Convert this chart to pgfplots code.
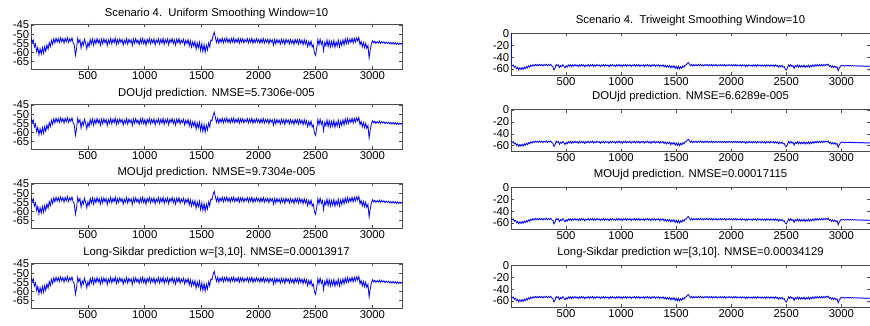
\documentclass[border=0pt]{standalone}
\usepackage{pgfplots}
\usepackage{pgfplotstable}
\pgfplotsset{compat=1.18}
\usepackage{fontspec}
\setmainfont{Liberation Sans}

\pgfplotstableread{
x y
1 -52.0
11 -54.6
21 -53.2
31 -57.0
41 -55.4
51 -59.6
61 -57.2
71 -61.3
81 -58.0
91 -60.8
101 -57.4
111 -60.5
121 -56.8
131 -59.4
141 -55.9
151 -58.2
161 -54.6
171 -56.8
181 -53.4
191 -55.6
201 -52.6
211 -54.8
221 -52.2
231 -54.3
241 -52.5
251 -54.6
261 -52.0
271 -54.1
281 -52.4
291 -54.9
301 -52.3
311 -54.2
321 -51.9
331 -54.5
341 -52.6
351 -53.9
361 -52.1
371 -54.7
381 -55.8
391 -61.5
401 -58.2
411 -52.3
421 -54.6
431 -53.0
441 -57.6
451 -54.2
461 -55.9
471 -52.8
481 -55.0
491 -58.0
501 -54.6
511 -56.8
521 -52.9
531 -55.4
541 -52.6
551 -56.1
561 -53.0
571 -55.2
581 -52.4
591 -54.9
601 -53.1
611 -56.0
621 -52.7
631 -55.3
641 -52.5
651 -54.8
661 -52.9
671 -56.2
681 -53.2
691 -55.0
701 -52.3
711 -55.4
721 -52.8
731 -54.7
741 -52.2
751 -55.6
761 -53.0
771 -55.1
781 -52.6
791 -54.5
801 -52.9
811 -56.0
821 -53.3
831 -54.9
841 -52.4
851 -55.5
861 -52.8
871 -54.6
881 -53.1
891 -56.2
901 -52.7
911 -55.0
921 -52.5
931 -54.8
941 -53.2
951 -55.7
961 -52.6
971 -54.9
981 -52.3
991 -55.2
1001 -53.0
1011 -56.1
1021 -52.8
1031 -54.7
1041 -52.4
1051 -55.3
1061 -52.9
1071 -54.8
1081 -52.6
1091 -55.9
1101 -53.1
1111 -54.6
1121 -52.5
1131 -55.4
1141 -52.8
1151 -54.9
1161 -52.3
1171 -55.6
1181 -53.0
1191 -54.7
1201 -52.6
1211 -55.8
1221 -52.9
1231 -54.5
1241 -52.4
1251 -55.2
1261 -53.1
1271 -56.0
1281 -52.7
1291 -54.8
1301 -52.5
1311 -55.5
1321 -53.2
1331 -54.6
1341 -52.8
1351 -55.9
1361 -53.4
1371 -55.1
1381 -52.9
1391 -56.4
1401 -53.6
1411 -57.0
1421 -54.2
1431 -56.6
1441 -54.0
1451 -58.2
1461 -54.8
1471 -57.5
1481 -54.4
1491 -59.0
1501 -55.3
1511 -59.5
1521 -55.6
1531 -59.8
1541 -56.0
1551 -58.6
1561 -54.8
1571 -57.0
1581 -53.2
1591 -53.6
1601 -50.6
1611 -49.0
1621 -52.0
1631 -54.6
1641 -52.2
1651 -55.0
1661 -52.6
1671 -54.4
1681 -52.3
1691 -54.8
1701 -52.5
1711 -54.2
1721 -52.1
1731 -54.6
1741 -52.7
1751 -54.9
1761 -52.4
1771 -54.3
1781 -52.2
1791 -54.7
1801 -52.8
1811 -54.5
1821 -52.3
1831 -55.0
1841 -52.6
1851 -54.4
1861 -52.5
1871 -54.8
1881 -52.9
1891 -54.2
1901 -52.4
1911 -54.9
1921 -52.7
1931 -54.5
1941 -52.3
1951 -55.1
1961 -52.8
1971 -54.6
1981 -52.5
1991 -54.3
2001 -52.9
2011 -55.0
2021 -52.6
2031 -54.7
2041 -52.4
2051 -54.9
2061 -53.0
2071 -54.5
2081 -52.7
2091 -55.2
2101 -52.8
2111 -54.4
2121 -53.1
2131 -56.0
2141 -53.0
2151 -55.3
2161 -52.9
2171 -54.8
2181 -53.2
2191 -55.5
2201 -52.8
2211 -54.9
2221 -53.0
2231 -55.6
2241 -52.7
2251 -54.6
2261 -53.1
2271 -55.4
2281 -52.9
2291 -55.0
2301 -53.3
2311 -55.7
2321 -52.8
2331 -54.9
2341 -53.0
2351 -55.5
2361 -52.9
2371 -55.1
2381 -53.2
2391 -55.8
2401 -53.0
2411 -55.4
2421 -53.6
2431 -56.8
2441 -54.0
2451 -56.2
2461 -53.8
2471 -57.0
2481 -56.0
2491 -60.2
2501 -61.6
2511 -57.5
2521 -53.0
2531 -55.8
2541 -52.8
2551 -55.6
2561 -54.0
2571 -59.0
2581 -54.5
2591 -56.4
2601 -53.2
2611 -56.8
2621 -53.6
2631 -57.0
2641 -54.0
2651 -56.6
2661 -53.5
2671 -57.2
2681 -54.2
2691 -56.5
2701 -53.4
2711 -57.0
2721 -53.8
2731 -56.2
2741 -53.1
2751 -55.9
2761 -52.6
2771 -55.2
2781 -52.4
2791 -55.0
2801 -52.8
2811 -54.6
2821 -52.2
2831 -54.9
2841 -52.3
2851 -54.3
2861 -52.0
2871 -53.8
2881 -51.8
2891 -55.8
2901 -54.0
2911 -57.0
2921 -54.6
2931 -57.4
2941 -55.0
2951 -57.8
2961 -56.2
2971 -63.0
2981 -58.6
2991 -55.4
3001 -53.6
3011 -54.8
3021 -53.9
3031 -55.0
3041 -54.1
3051 -54.9
3061 -53.8
3071 -55.1
3081 -54.0
3091 -54.8
3101 -54.2
3111 -55.2
3121 -54.3
3131 -55.0
3141 -54.4
3151 -55.3
3161 -54.6
3171 -55.4
3181 -54.5
3191 -55.5
3201 -54.7
3211 -55.6
3221 -54.8
3231 -55.7
3241 -54.9
3251 -55.5
3260 -55.0
}\sig

\pgfplotsset{
  myax/.style={
    scale only axis,
    xmin=1, xmax=3260,
    xtick={500,1000,...,3000},
    tick align=inside, tick pos=both,
    major tick length=2.2pt,
    ticklabel style={font=\fontsize{8.5}{9}\selectfont},
    xticklabel style={inner sep=1.5pt},
    yticklabel style={inner xsep=1.2pt, inner ysep=0pt},
    /pgf/number format/assume math mode=true,
    /pgf/number format/1000 sep={},
    axis line style={black!70},
    every tick/.style={black!70},
    every axis title shift=0pt,
    title style={font=\fontsize{8.5}{9}\selectfont, at={(0.5,1)}, anchor=base},
  },
  leftax/.style={myax, width=278.25pt, height=33.75pt,
    ymin=-69, ymax=-44.5, ytick={-65,-60,-55,-50,-45},
    title style={yshift=5.5pt}},
  rightax/.style={myax, width=269.25pt, height=31.5pt,
    ymin=-70, ymax=0.5, ytick={-60,-40,-20,0},
    title style={yshift=7.5pt}},
  sigline/.style={blue, line width=0.6pt},
}

\begin{document}
\begin{tikzpicture}
\path[use as bounding box] (0,0) rectangle (652.5pt,243.75pt);

% left column
\begin{axis}[leftax, at={(23.25pt,192pt)}, anchor=south west,
  title={Scenario 4.\ \ Uniform Smoothing Window=10}]
\addplot[sigline] table[x=x,y=y] {\sig};
\end{axis}
\begin{axis}[leftax, at={(23.25pt,132pt)}, anchor=south west,
  title={DOUjd prediction. NMSE=5.7306e-005}]
\addplot[sigline] table[x=x,y=y] {\sig};
\end{axis}
\begin{axis}[leftax, at={(23.25pt,72.75pt)}, anchor=south west,
  title={MOUjd prediction. NMSE=9.7304e-005}]
\addplot[sigline] table[x=x,y=y] {\sig};
\end{axis}
\begin{axis}[leftax, at={(23.25pt,12.75pt)}, anchor=south west,
  title={Long-Sikdar prediction w=[3,10]. NMSE=0.00013917}]
\addplot[sigline] table[x=x,y=y] {\sig};
\end{axis}

% right column
\begin{axis}[rightax, at={(383.25pt,187.5pt)}, anchor=south west,
  title={Scenario 4.\ \ Triweight Smoothing Window=10}]
\addplot[sigline] coordinates {(1,0) (1,-52.0)};
\addplot[sigline] table[x=x,y=y] {\sig};
\end{axis}
\begin{axis}[rightax, at={(383.25pt,130pt)}, anchor=south west,
  title={DOUjd prediction. NMSE=6.6289e-005}]
\addplot[sigline] table[x=x,y=y] {\sig};
\end{axis}
\begin{axis}[rightax, at={(383.25pt,72pt)}, anchor=south west,
  title={MOUjd prediction. NMSE=0.00017115}]
\addplot[sigline] table[x=x,y=y] {\sig};
\end{axis}
\begin{axis}[rightax, at={(383.25pt,13.5pt)}, anchor=south west,
  title={Long-Sikdar prediction w=[3,10]. NMSE=0.00034129}]
\addplot[sigline] table[x=x,y=y] {\sig};
\end{axis}
\end{tikzpicture}
\end{document}
